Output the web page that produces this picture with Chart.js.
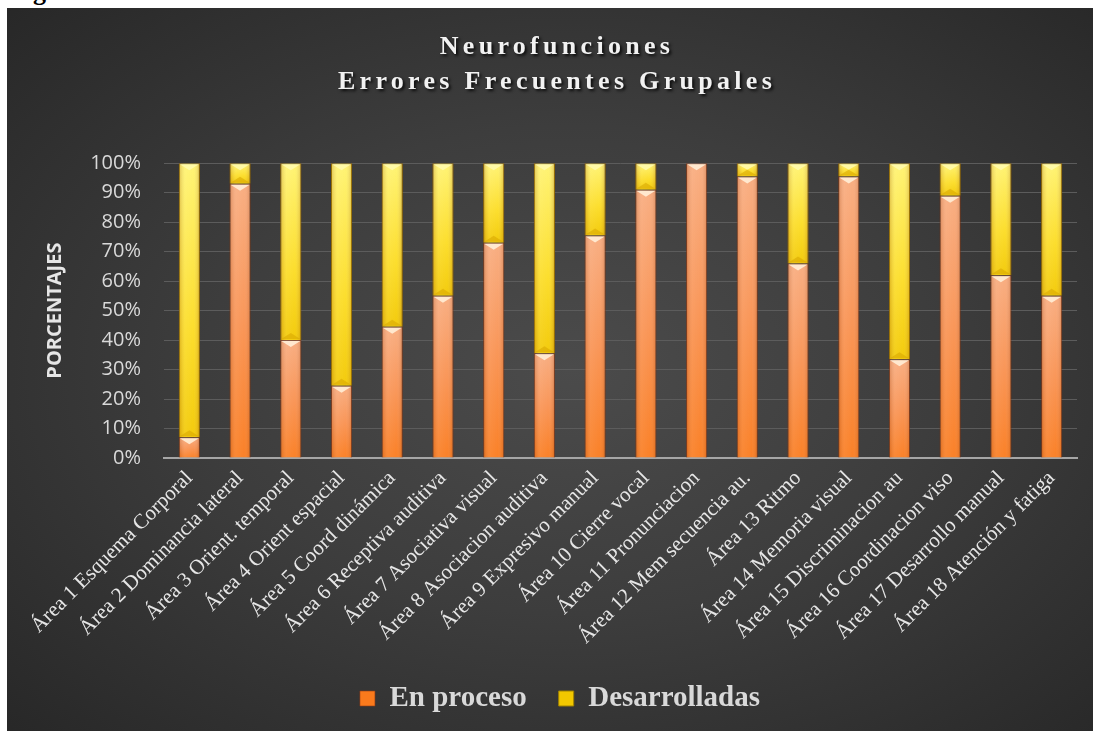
<!DOCTYPE html>
<html>
<head>
<meta charset="utf-8">
<script src="https://cdn.jsdelivr.net/npm/chart.js@4.4.1/dist/chart.umd.min.js"></script>
<style>
  html, body { margin: 0; padding: 0; background: #fff; }
  body { width: 1093px; height: 731px; position: relative; overflow: hidden; }
  #fig { position: absolute; left: 10px; top: -21px; font: bold 26px "Liberation Serif", serif; line-height: 1; color: #000; }
  #wrap {
    position: absolute; left: 7px; top: 8px; width: 1086px; height: 723px;
    background: radial-gradient(ellipse 75% 75% at 52% 50%, #4b4b4b 0%, #3d3d3d 45%, #262626 100%);
  }
</style>
</head>
<body>
<div id="fig">Figura</div>
<div id="wrap"><canvas id="chart" width="1086" height="723"></canvas></div>
<script>
// Neurofunciones - errores frecuentes grupales (porcentajes)
var categories = ['Área 1 Esquema Corporal', 'Área 2 Dominancia lateral', 'Área 3 Orient. temporal',
  'Área 4 Orient espacial', 'Área 5 Coord dinámica', 'Área 6 Receptiva auditiva',
  'Área 7 Asociativa visual', 'Área 8 Asociacion auditiva', 'Área 9 Expresivo manual',
  'Área 10 Cierre vocal', 'Área 11 Pronunciacion', 'Área 12 Mem secuencia au.',
  'Área 13 Ritmo', 'Área 14 Memoria visual', 'Área 15 Discriminacion au',
  'Área 16 Coordinacion viso', 'Área 17 Desarrollo manual', 'Área 18 Atención y fatiga'];
var enProceso = [7, 93, 40, 24.5, 44.5, 55, 73, 35.5, 75.5, 91, 100, 95.5, 66, 95.5, 33.5, 89, 62, 55];
var desarrolladas = [93, 7, 60, 75.5, 55.5, 45, 27, 64.5, 24.5, 9, 0, 4.5, 34, 4.5, 66.5, 11, 38, 45];

function vGrad(chart, top, bot, stops, fallback) {
    if (!isFinite(top) || !isFinite(bot)) return fallback;
    var g = chart.ctx.createLinearGradient(0, top, 0, bot + 0.1);
    stops.forEach(function (s) { g.addColorStop(s[0], s[1]); });
    return g;
}

function orangeFill(ctx) {
    if (ctx.type !== 'data') return '#f48a40';
    var ys = ctx.chart.scales.y;
    if (!ys) return '#f98d45';
    return vGrad(ctx.chart, ys.getPixelForValue(enProceso[ctx.dataIndex]), ys.getPixelForValue(0),
        [[0, '#f8aa7c'], [0.5, '#f99150'], [1, '#fa7a1c']], '#f98d45');
}

function yellowFill(ctx) {
    if (ctx.type !== 'data') return '#f5d820';
    var ys = ctx.chart.scales.y;
    if (!ys) return '#fbdc1e';
    return vGrad(ctx.chart, ys.getPixelForValue(100), ys.getPixelForValue(enProceso[ctx.dataIndex]),
        [[0, '#fff36e'], [0.6, '#fcdc22'], [1, '#f2c800']], '#fbdc1e');
}

// bevel look: side shading + little triangles on each segment
var bevel = {
    id: 'bevel',
    afterDatasetsDraw: function (chart) {
        var c = chart.ctx;
        chart.data.datasets.forEach(function (ds, di) {
            chart.getDatasetMeta(di).data.forEach(function (el) {
                var p = el.getProps(['x', 'y', 'base', 'width'], true);
                var l = p.x - p.width / 2, r = p.x + p.width / 2;
                var t = Math.min(p.y, p.base), b = Math.max(p.y, p.base);
                if (!isFinite(l) || b - t < 2) return;
                c.save();
                var g = c.createLinearGradient(l, 0, r, 0);
                g.addColorStop(0, 'rgba(120,40,0,0.25)');
                g.addColorStop(0.3, 'rgba(255,255,255,0.10)');
                g.addColorStop(0.7, 'rgba(255,255,255,0.05)');
                g.addColorStop(1, 'rgba(120,40,0,0.25)');
                c.fillStyle = g;
                c.fillRect(l, t, r - l, b - t);
                var h = Math.min(7, (b - t) / 2);
                c.beginPath();
                c.moveTo(l + 1, t + 1); c.lineTo(r - 1, t + 1); c.lineTo(p.x, t + h); c.closePath();
                c.fillStyle = di === 0 ? 'rgba(255,238,215,0.9)' : 'rgba(255,250,175,0.85)';
                c.fill();
                if (di === 1) {
                    c.beginPath();
                    c.moveTo(l + 1, b - 1); c.lineTo(r - 1, b - 1); c.lineTo(p.x, b - h); c.closePath();
                    c.fillStyle = 'rgba(215,165,0,0.55)';
                    c.fill();
                }
                c.restore();
            });
        });
    }
};

// spaced, shadowed title
var titleStyle = {
    id: 'titleStyle',
    afterInit: function (chart) {
        var tb = chart.titleBlock;
        if (!tb) return;
        var orig = tb.draw.bind(tb);
        tb.draw = function () {
            var c = chart.ctx;
            c.save();
            c.translate(-3, 0);
            c.letterSpacing = '4.3px';
            c.shadowColor = 'rgba(0,0,0,0.8)';
            c.shadowOffsetX = 2;
            c.shadowOffsetY = 2;
            c.shadowBlur = 3;
            orig();
            c.restore();
        };
    }
};

var ctxNeuro = document.getElementById('chart').getContext('2d');
var neuroChart = new Chart(ctxNeuro, {
    type: 'bar',
    data: {
        labels: categories,
        datasets: [{
            label: 'En proceso',
            data: enProceso,
            backgroundColor: orangeFill,
            borderColor: 'rgba(150,60,20,0.6)',
            borderWidth: 1
        }, {
            label: 'Desarrolladas',
            data: desarrolladas,
            backgroundColor: yellowFill,
            borderColor: '#a08200',
            borderWidth: 1
        }]
    },
    options: {
        responsive: false,
        animation: false,
        layout: { padding: { top: 0, right: 16, bottom: 8, left: 36 } },
        datasets: { bar: { categoryPercentage: 0.8, barPercentage: 0.52 } },
        scales: {
            x: {
                stacked: true,
                afterFit: function (s) { s.height = 194; },
                grid: { display: false },
                border: { display: true, color: '#a6a6a6', width: 2 },
                ticks: {
                    color: '#e6e6e6',
                    font: { family: 'Liberation Serif', size: 21 },
                    maxRotation: 45, minRotation: 45,
                    autoSkip: false,
                    padding: 0
                }
            },
            y: {
                stacked: true,
                min: 0, max: 100,
                afterFit: function (s) { s.width = 121; },
                grid: { color: '#5c5c5c', lineWidth: 1, drawTicks: false },
                border: { display: false },
                ticks: {
                    stepSize: 10,
                    padding: 23,
                    color: '#d9d9d9',
                    font: { family: 'Open Sans', size: 20 },
                    callback: function (v) { return v + '%'; }
                },
                title: {
                    display: true,
                    text: 'PORCENTAJES',
                    color: '#e6e6e6',
                    font: { family: 'Open Sans', size: 20, weight: 'bold', lineHeight: 1.2 },
                    padding: { top: 0, bottom: 0 }
                }
            }
        },
        plugins: {
            title: {
                display: true,
                text: ['Neurofunciones', 'Errores Frecuentes Grupales'],
                color: '#f2f2f2',
                font: { family: 'Liberation Serif', size: 26, weight: 'bold', lineHeight: 1.35 },
                padding: { top: 22, bottom: 63 }
            },
            legend: {
                position: 'bottom',
                labels: {
                    color: '#d9d9d9',
                    font: { family: 'Liberation Serif', size: 29, weight: 'bold' },
                    boxWidth: 15,
                    boxHeight: 15,
                    padding: 32
                }
            },
            tooltip: { enabled: false }
        }
    },
    plugins: [bevel, titleStyle]
});
</script>
</body>
</html>
